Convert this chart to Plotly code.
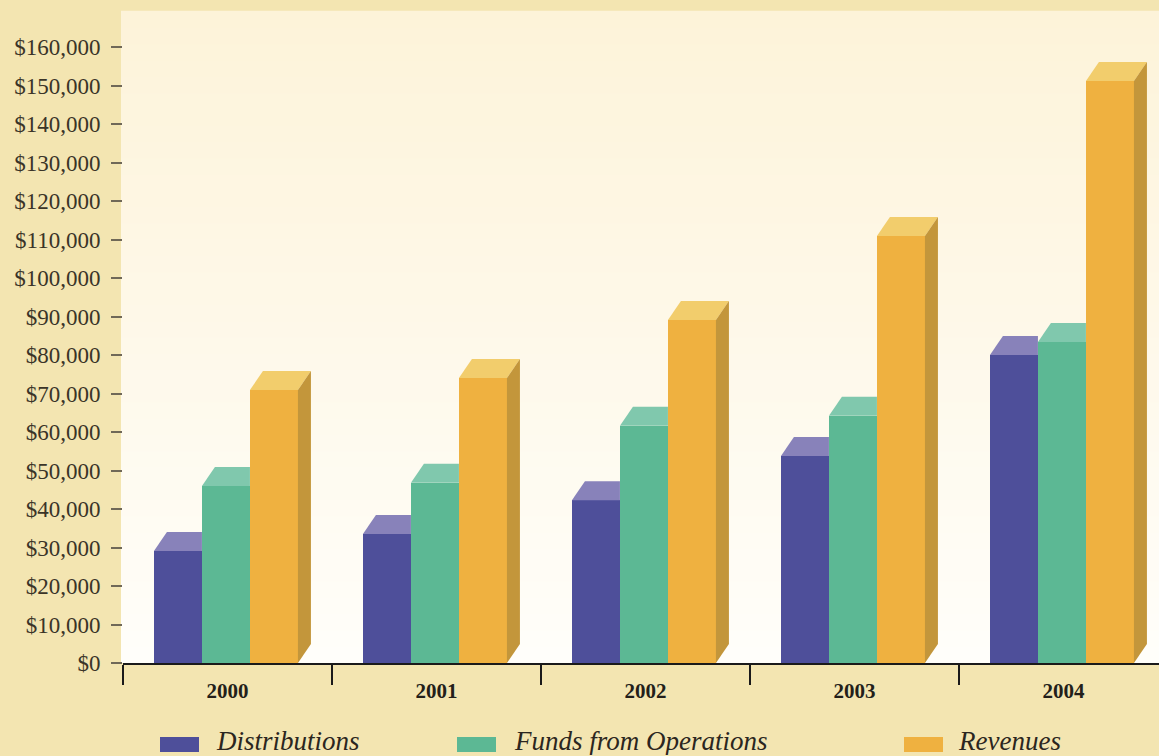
import plotly.graph_objects as go

# ---------------- data ----------------
years = ["2000", "2001", "2002", "2003", "2004"]
distributions = [29100, 33500, 42300, 53800, 80000]
funds_from_operations = [46000, 46800, 61600, 64200, 83400]
revenues = [70900, 74000, 89100, 110900, 151200]
series_names = ["Distributions", "Funds from Operations", "Revenues"]
y_tick_values = list(range(0, 160001, 10000))
y_tick_labels = ["$" + format(v, ",d") for v in y_tick_values]

# ---------------- styling ----------------
front_colors = ["#4e4f9a", "#5cb894", "#efb140"]
top_colors = ["#8882ba", "#80c8ad", "#f2cd6c"]
side_colors = ["#3b3c78", "#46957a", "#c3963b"]

W, H = 1159, 756
ml, mt, mr, mb = 123, 12, 0, 93
plot_w = W - ml - mr
plot_h = H - mt - mb
cat_px = 209.0
x_lo = -0.5
x_hi = -0.5 + plot_w / cat_px
y_hi = 169100
px_per_unit = plot_h / y_hi

bar_w = 48 / cat_px
first_off = -0.352
depth_x = 13 / cat_px
depth_y = 19 / px_per_unit

series_vals = [distributions, funds_from_operations, revenues]

fig = go.Figure()

# front faces (real bars)
for k, vals in enumerate(series_vals):
    xs = [i + first_off + (k + 0.5) * bar_w for i in range(len(years))]
    fig.add_trace(go.Bar(
        x=xs, y=vals, width=bar_w, name=series_names[k],
        marker=dict(color=front_colors[k], line=dict(width=0)),
        showlegend=False, hoverinfo="skip",
    ))

# top faces and visible side faces (painter order)
for k, vals in enumerate(series_vals):
    nxt = series_vals[k + 1] if k + 1 < len(series_vals) else None
    for i, v in enumerate(vals):
        x0 = i + first_off + k * bar_w
        x1 = x0 + bar_w
        if nxt is not None and nxt[i] >= v:
            px = [x0, x1, x1, x0 + depth_x, x0]
            py = [v, v, v + depth_y, v + depth_y, v]
        else:
            px = [x0, x1, x1 + depth_x, x0 + depth_x, x0]
            py = [v, v, v + depth_y, v + depth_y, v]
        fig.add_trace(go.Scatter(
            x=px, y=py, mode="lines", fill="toself",
            fillcolor=top_colors[k], line=dict(width=0, color=top_colors[k]),
            showlegend=False, hoverinfo="skip",
        ))
        if nxt is None:
            sx = [x1, x1 + depth_x, x1 + depth_x, x1, x1]
            sy = [0, depth_y, v + depth_y, v, 0]
            fig.add_trace(go.Scatter(
                x=sx, y=sy, mode="lines", fill="toself",
                fillcolor=side_colors[k], line=dict(width=0, color=side_colors[k]),
                showlegend=False, hoverinfo="skip",
            ))

# ---------------- background panel gradient ----------------
def lerp_hex(c0, c1, t):
    a = [int(c0[j:j + 2], 16) for j in (1, 3, 5)]
    b = [int(c1[j:j + 2], 16) for j in (1, 3, 5)]
    return "#" + "".join("%02x" % round(a[j] + (b[j] - a[j]) * t) for j in range(3))

shapes = []
n_bands = 40
for b in range(n_bands):
    t0 = b / n_bands
    t1 = (b + 1) / n_bands
    shapes.append(dict(
        type="rect", xref="paper", yref="paper",
        x0=-2 / plot_w, x1=1, y0=t0, y1=t1 + 0.002,
        fillcolor=lerp_hex("#fffefa", "#fdf3d9", (t0 + t1) / 2),
        line=dict(width=0), layer="below",
    ))

# ---------------- legend (custom) ----------------
legend_items = [(160, 214), (457, 512), (904, 956)]
annotations = []
for k, (bx, tx) in enumerate(legend_items):
    shapes.append(dict(
        type="rect", xref="paper", yref="paper",
        x0=(bx - ml) / plot_w, x1=(bx + 39 - ml) / plot_w,
        y0=(mt + plot_h - 752) / plot_h, y1=(mt + plot_h - 737) / plot_h,
        fillcolor=front_colors[k], line=dict(width=0),
    ))
    annotations.append(dict(
        xref="paper", yref="paper", x=(tx - ml) / plot_w,
        y=(mt + plot_h - 741) / plot_h, xanchor="left", yanchor="middle",
        height=28, valign="middle",
        text=series_names[k], showarrow=False,
        font=dict(family="Liberation Serif", size=27, color="#2b2620", style="italic"),
    ))

fig.update_layout(
    width=W, height=H,
    margin=dict(l=ml, r=mr, t=mt, b=mb, pad=0),
    paper_bgcolor="#f3e5b1",
    plot_bgcolor="rgba(0,0,0,0)",
    barmode="overlay",
    bargap=0,
    showlegend=False,
    shapes=shapes,
    annotations=annotations,
    xaxis=dict(
        range=[x_lo, x_hi], tickmode="array",
        tickvals=list(range(len(years))), ticktext=years,
        ticks="outside", ticklen=8, tickcolor="rgba(0,0,0,0)",
        tickfont=dict(family="Liberation Serif", size=21, color="#231f1a", weight="bold"),
        showgrid=False, zeroline=False,
        showline=True, linecolor="#1a1a1a", linewidth=2,
        minor=dict(tickvals=[i - 0.5 for i in range(len(years) + 1)],
                   ticks="outside", ticklen=20, tickcolor="#1a1a1a", tickwidth=1.5,
                   showgrid=False),
        fixedrange=True,
    ),
    yaxis=dict(
        range=[0, y_hi], tickmode="array", tickvals=y_tick_values,
        ticktext=y_tick_labels,
        ticks="outside", ticklen=11, tickwidth=2, tickcolor="#6f6857",
        ticklabelstandoff=6,
        tickfont=dict(family="Liberation Serif", size=23, color="#3a3428"),
        showgrid=False, zeroline=False, showline=False,
        fixedrange=True,
    ),
)

fig.write_html(
    "out.html",
    config={"displayModeBar": False},
    post_script="document.body.style.margin='0';document.body.style.padding='0';"
                "document.body.style.background='#f3e5b1';",
)
